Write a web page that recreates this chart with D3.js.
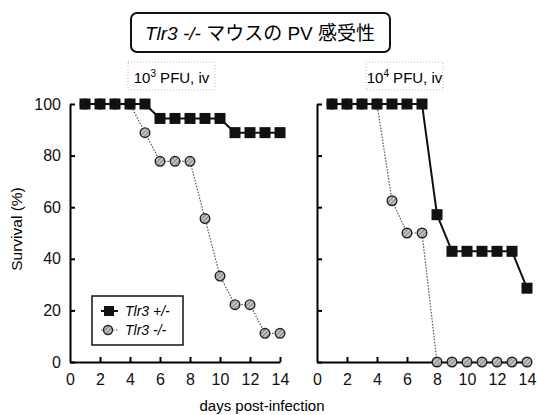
<!DOCTYPE html>
<html>
<head>
<meta charset="utf-8">
<script src="https://cdn.jsdelivr.net/npm/d3@7"></script>
<style>
  body { margin: 0; background: #fff; }
  svg { display: block; font-family: "Liberation Sans", Arial, sans-serif; }
</style>
</head>
<body>
<script>
'use strict';

var days = [1, 2, 3, 4, 5, 6, 7, 8, 9, 10, 11, 12, 13, 14];
// 10^3 PFU panel
var het3 = [100, 100, 100, 100, 100, 94.4, 94.4, 94.4, 94.4, 94.4, 88.9, 88.9, 88.9, 88.9];
var ko3  = [100, 100, 100, 100, 88.9, 77.8, 77.8, 77.8, 55.6, 33.3, 22.2, 22.2, 11.1, 11.1];
// 10^4 PFU panel
var het4 = [100, 100, 100, 100, 100, 100, 100, 57.1, 42.9, 42.9, 42.9, 42.9, 42.9, 28.6];
var ko4  = [100, 100, 100, 100, 62.5, 50, 50, 0, 0, 0, 0, 0, 0, 0];

var xTicks = [0, 2, 4, 6, 8, 10, 12, 14];
var yTicks = [0, 20, 40, 60, 80, 100];
var seriesNames = ["Tlr3 +/-", "Tlr3 -/-"];
var panelTitles = [["10", "3", " PFU, iv"], ["10", "4", " PFU, iv"]];

var width = 537, height = 415;
var svg = d3.select("body").append("svg")
  .attr("width", width)
  .attr("height", height);

var defs = svg.append("defs");
var pat = defs.append("pattern")
  .attr("id", "hatch")
  .attr("patternUnits", "userSpaceOnUse")
  .attr("width", 3).attr("height", 3)
  .attr("patternTransform", "rotate(45)");
pat.append("rect").attr("width", 3).attr("height", 3).attr("fill", "#c4c4c4");
pat.append("line").attr("x1", 0).attr("y1", 0).attr("x2", 0).attr("y2", 3)
  .attr("stroke", "#555").attr("stroke-width", 1.2);

// title box
svg.append("rect")
  .attr("x", 131).attr("y", 13)
  .attr("width", 259).attr("height", 39)
  .attr("rx", 6)
  .attr("fill", "#fff").attr("stroke", "#111").attr("stroke-width", 2);
var title = svg.append("text")
  .attr("x", 260).attr("y", 40)
  .attr("text-anchor", "middle")
  .style("font-size", "19px")
  .style("font-family", "'Liberation Sans', 'Noto Sans CJK JP', sans-serif");
title.append("tspan").style("font-style", "italic").text("Tlr3 -/-");
title.append("tspan").text(" マウスの PV 感受性");

var y = d3.scaleLinear().domain([0, 100]).range([362, 104]);

var panels = [
  {x0: 70, het: het3, ko: ko3, title: panelTitles[0], box: [128, 62, 87, 28], yLabels: true},
  {x0: 317, het: het4, ko: ko4, title: panelTitles[1], box: [366, 62, 77, 28], yLabels: false}
];

panels.forEach(function(p) {
  var x = d3.scaleLinear().domain([0, 14]).range([p.x0, p.x0 + 210]);

  // subtitle with dotted box
  svg.append("rect")
    .attr("x", p.box[0]).attr("y", p.box[1])
    .attr("width", p.box[2]).attr("height", p.box[3])
    .attr("fill", "none").attr("stroke", "#bbb")
    .attr("stroke-width", 1).attr("stroke-dasharray", "1,2");
  var st = svg.append("text")
    .attr("x", p.box[0] + p.box[2] / 2).attr("y", 83)
    .attr("text-anchor", "middle")
    .style("font-size", "15px");
  st.append("tspan").text(p.title[0]);
  st.append("tspan").attr("dy", -6).style("font-size", "10px").text(p.title[1]);
  st.append("tspan").attr("dy", 6).text(p.title[2]);

  var xAxis = d3.axisBottom(x).tickValues(xTicks)
    .tickSizeInner(-5).tickSizeOuter(0).tickPadding(12);
  var gx = svg.append("g")
    .attr("transform", "translate(0," + y(0) + ")")
    .call(xAxis);
  gx.select(".domain").attr("stroke-width", 2);
  gx.selectAll(".tick line").attr("stroke-width", 2);
  gx.selectAll("text").style("font-size", "16px").attr("fill", "#111");

  var yAxis = d3.axisLeft(y).tickValues(yTicks)
    .tickSizeInner(-5).tickSizeOuter(0).tickPadding(9);
  var gy = svg.append("g")
    .attr("transform", "translate(" + p.x0 + ",0)")
    .call(yAxis);
  gy.select(".domain").attr("stroke-width", 2);
  gy.selectAll(".tick line").attr("stroke-width", 2);
  gy.selectAll("text").style("font-size", "16px").attr("fill", "#111");
  if (!p.yLabels) gy.selectAll("text").remove();
  gx.selectAll(".tick").filter(function(d) { return d === 0; }).select("line").remove();

  var line = d3.line()
    .x(function(d, i) { return x(days[i]); })
    .y(function(d) { return y(d); });

  // knockout series: dotted grey line, hatched circles
  svg.append("path")
    .attr("d", line(p.ko))
    .attr("fill", "none").attr("stroke", "#555")
    .attr("stroke-width", 1.2).attr("stroke-dasharray", "1.5,1.5");
  svg.append("g").selectAll("circle")
    .data(p.ko)
    .join("circle")
    .attr("cx", function(d, i) { return x(days[i]); })
    .attr("cy", function(d) { return y(d); })
    .attr("r", 4.8)
    .attr("fill", "url(#hatch)")
    .attr("stroke", "#222").attr("stroke-width", 1.4);

  // heterozygous series: solid black line, filled squares
  svg.append("path")
    .attr("d", line(p.het))
    .attr("fill", "none").attr("stroke", "#111").attr("stroke-width", 2);
  svg.append("g").selectAll("rect")
    .data(p.het)
    .join("rect")
    .attr("x", function(d, i) { return x(days[i]) - 5.5; })
    .attr("y", function(d) { return y(d) - 5.5; })
    .attr("width", 11).attr("height", 11)
    .attr("fill", "#111");
});

// legend
var lg = svg.append("g").attr("transform", "translate(92,296)");
lg.append("rect").attr("width", 91).attr("height", 49)
  .attr("fill", "#fff").attr("stroke", "#111").attr("stroke-width", 1.5);
lg.append("line").attr("x1", 9).attr("x2", 26).attr("y1", 15).attr("y2", 15)
  .attr("stroke", "#111").attr("stroke-width", 2);
lg.append("rect").attr("x", 12).attr("y", 10).attr("width", 10).attr("height", 10).attr("fill", "#111");
lg.append("line").attr("x1", 9).attr("x2", 26).attr("y1", 34).attr("y2", 34)
  .attr("stroke", "#555").attr("stroke-width", 1.2).attr("stroke-dasharray", "1.5,1.5");
lg.append("circle").attr("cx", 16).attr("cy", 34).attr("r", 4.5)
  .attr("fill", "url(#hatch)").attr("stroke", "#222").attr("stroke-width", 1.4);
lg.selectAll("text.lbl")
  .data(seriesNames)
  .join("text")
  .attr("class", "lbl")
  .attr("x", 33)
  .attr("y", function(d, i) { return 20 + i * 19; })
  .style("font-size", "14px").style("font-style", "italic")
  .text(function(d) { return d; });

// axis titles
svg.append("text")
  .attr("transform", "translate(22,229) rotate(-90)")
  .attr("text-anchor", "middle")
  .style("font-size", "15.5px")
  .text("Survival (%)");
svg.append("text")
  .attr("x", 262).attr("y", 411)
  .attr("text-anchor", "middle")
  .style("font-size", "15px")
  .text("days post-infection");
</script>
</body>
</html>
